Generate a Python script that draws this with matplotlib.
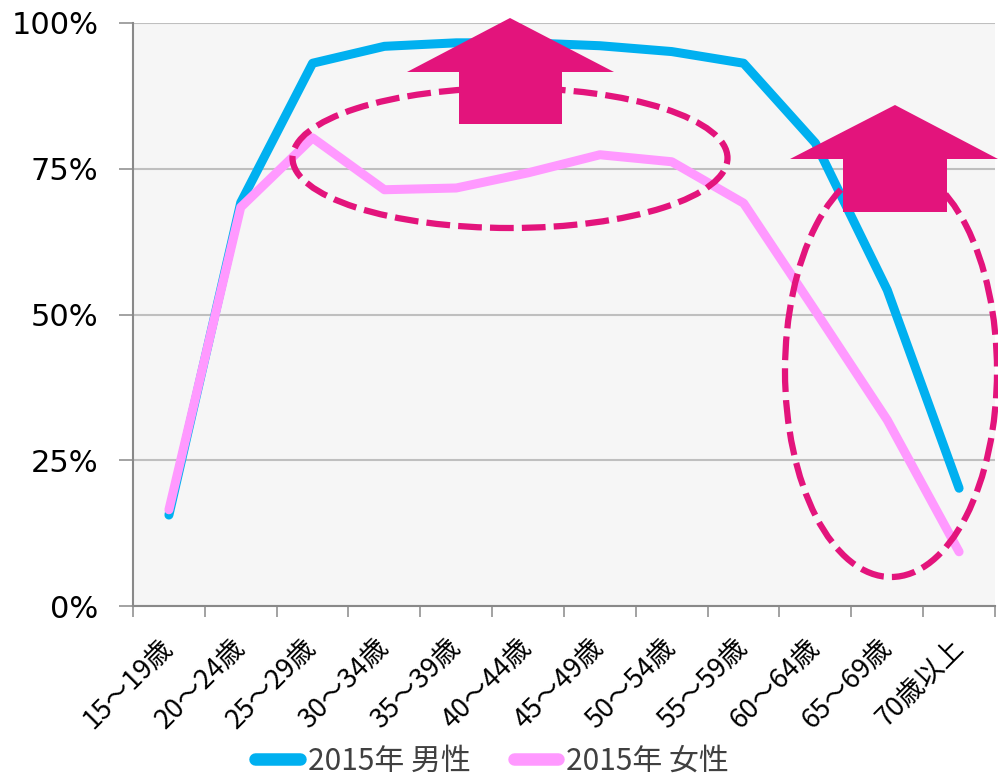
import matplotlib
matplotlib.use('Agg')
import matplotlib.pyplot as plt
from matplotlib.patches import Ellipse, Polygon
from matplotlib.lines import Line2D
import matplotlib.transforms as mtransforms

categories = ['15～19歳', '20～24歳', '25～29歳', '30～34歳', '35～39歳', '40～44歳',
              '45～49歳', '50～54歳', '55～59歳', '60～64歳', '65～69歳', '70歳以上']
male = [15.6, 69.2, 93.1, 96.0, 96.6, 96.6, 96.1, 95.1, 93.1, 79.4, 54.2, 20.2]
female = [16.5, 68.4, 80.3, 71.4, 71.7, 74.3, 77.4, 76.2, 69.1, 50.6, 31.9, 9.3]
yticks = [0, 25, 50, 75, 100]
ytick_labels = ['0%', '25%', '50%', '75%', '100%']
series_names = ['2015年 男性', '2015年 女性']

plt.rcParams['font.family'] = ['DejaVu Sans', 'Noto Sans CJK JP']

W, H = 998, 780
fig = plt.figure(figsize=(W / 100, H / 100), dpi=100)
ax = fig.add_axes([133 / W, 1 - 606 / H, (995 - 133) / W, (606 - 23) / H])
ax.set_facecolor('#F6F6F6')

BLUE = '#00B0F0'
PINK = '#FF99FF'
MAG = '#E3147C'
AXC = '#898989'

x = list(range(len(categories)))
ax.plot(x, male, color=BLUE, lw=6.5, solid_capstyle='round', solid_joinstyle='round', zorder=3)
ax.plot(x, female, color=PINK, lw=6.5, solid_capstyle='round', solid_joinstyle='round', zorder=4)

ax.set_xlim(-0.5, len(categories) - 0.5)
ax.set_ylim(0, 100)
ax.set_yticks(yticks)
ax.set_yticklabels(ytick_labels, fontsize=22, family='DejaVu Sans')
ax.yaxis.grid(True, color='#BFBFBF', lw=1.5)
ax.set_axisbelow(True)
for s in ['top', 'right']:
    ax.spines[s].set_visible(False)
for s in ['left', 'bottom']:
    ax.spines[s].set_color(AXC)
    ax.spines[s].set_linewidth(1.5)

ax.set_xticks(x)
ax.set_xticklabels(categories, rotation=45, ha='right', va='center', rotation_mode='anchor',
                   fontsize=19.5, family=['Noto Sans CJK JP'])
ax.set_xticks([i - 0.5 for i in range(len(categories) + 1)], minor=True)
ax.tick_params(axis='x', which='major', length=0, pad=27)
ax.tick_params(axis='x', which='minor', length=8, width=1.1, color=AXC)
ax.tick_params(axis='y', length=10, width=1.1, color=AXC, pad=15)

px = mtransforms.Affine2D().scale(1 / W, -1 / H).translate(0, 1) + fig.transFigure

dash = (0, (3.8, 1.3))
e1 = Ellipse((510, 158), 435, 140, transform=px, fill=False, edgecolor=MAG, lw=4.5,
             linestyle=dash, zorder=5)
e2 = Ellipse((891, 371), 212, 412, transform=px, fill=False, edgecolor=MAG, lw=4.5,
             linestyle=dash, zorder=5)
fig.patches.extend([e1, e2])

def arrow(tipx, tipy, hl, hr, hb, sl, sr, sb):
    return Polygon([(tipx, tipy), (hr, hb), (sr, hb), (sr, sb), (sl, sb), (sl, hb), (hl, hb)],
                   closed=True, transform=px, facecolor=MAG, edgecolor='none', zorder=6)

fig.patches.append(arrow(510, 18, 407, 614, 72, 459, 562, 124))
fig.patches.append(arrow(895, 105, 790, 998, 159, 843, 947, 212))

handles = [Line2D([], [], color=BLUE, lw=9, solid_capstyle='round'),
           Line2D([], [], color=PINK, lw=9, solid_capstyle='round')]
fig.legend(handles, series_names, loc='center', bbox_to_anchor=(0.493, 0.024), ncol=2,
           frameon=False, prop={'family': ['Noto Sans CJK JP'], 'size': 21.5},
           handlelength=1.5, handletextpad=0.25, columnspacing=1.45, labelcolor='#404040')

fig.savefig('out.png', dpi=100)
